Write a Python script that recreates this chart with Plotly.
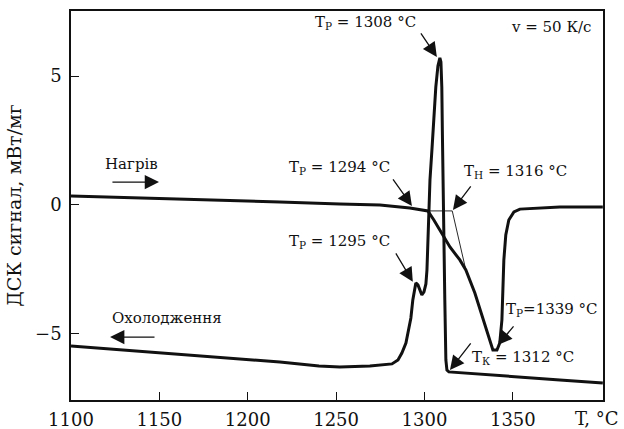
import plotly.graph_objects as go

# ---- data ----
heat_T = [1100, 1144.7, 1184.3, 1218.2, 1252.1, 1274.8, 1291.7, 1301.9, 1305.3, 1308.7,
          1314.4, 1320.0, 1323.4, 1328.5, 1333.0, 1337.0, 1338.7, 1341.0, 1342.6, 1343.8,
          1344.3, 1344.9, 1346.0, 1347.7, 1350.6, 1354.0, 1376.6, 1400.9]
heat_S = [0.35, 0.27, 0.19, 0.12, 0.04, 0.0, -0.12, -0.23, -0.58, -0.97,
          -1.63, -2.13, -2.52, -3.41, -4.38, -5.23, -5.62, -5.62, -5.35, -4.46,
          -3.29, -2.13, -1.16, -0.58, -0.27, -0.16, -0.08, -0.08]

cool_T = [1100, 1184.3, 1218.2, 1240.3, 1252.1, 1269.1, 1281.6, 1285.0, 1287.2, 1289.5,
          1290.6, 1292.3, 1293.4, 1294.6, 1295.1, 1296.3, 1297.4, 1298.5, 1299.7, 1300.8,
          1301.4, 1301.9, 1303.1, 1304.2, 1305.3, 1306.4, 1307.6, 1308.7, 1309.3, 1309.8,
          1310.1, 1310.4, 1311.0, 1311.5, 1312.1, 1312.7, 1313.8, 1331.3, 1354.0, 1376.6, 1400.9]
cool_S = [-5.47, -5.93, -6.09, -6.24, -6.28, -6.24, -6.16, -6.01, -5.74, -5.35,
          -4.96, -4.38, -3.68, -3.10, -3.02, -3.10, -3.33, -3.49, -3.37, -3.06,
          -2.52, -1.36, 0.97, 2.13, 3.37, 4.57, 5.39, 5.70, 5.54, 4.57,
          2.91, 0.97, -1.36, -3.68, -6.01, -6.40, -6.47, -6.55, -6.67, -6.78, -6.90]

# onset construction (baseline + tangent)
tan_T = [1301.9, 1315.7, 1323.4]
tan_S = [-0.23, -0.23, -2.52]

x_ticks = [1100, 1150, 1200, 1250, 1300, 1350]
y_ticks = [-5, 0, 5]

FONT = "DejaVu Serif"
INK = "#111111"

fig = go.Figure()
fig.add_trace(go.Scatter(x=heat_T, y=heat_S, mode="lines",
                         line=dict(color=INK, width=3), showlegend=False))
fig.add_trace(go.Scatter(x=cool_T, y=cool_S, mode="lines",
                         line=dict(color=INK, width=3), showlegend=False))
fig.add_trace(go.Scatter(x=tan_T, y=tan_S, mode="lines",
                         line=dict(color=INK, width=0.9), showlegend=False))

ann = []

def arrow(x, y, ax, ay):
    ann.append(dict(x=x, y=y, ax=ax, ay=ay, xref="x", yref="y", axref="x", ayref="y",
                    text="", showarrow=True, arrowhead=2, arrowsize=2.2, arrowwidth=1.3,
                    arrowcolor=INK, standoff=0, startstandoff=0))

def label(x, y, t, size=15):
    ann.append(dict(x=x, y=y, xref="x", yref="y", text=t, showarrow=False,
                    font=dict(family=FONT, size=size, color=INK),
                    xanchor="center", yanchor="middle"))

label(1266.9, 7.09, "T<sub>Р</sub> = 1308 °C")
arrow(1307.0, 5.74, 1297.4, 6.71)
label(1372.1, 6.90, "v = 50 К/с")
label(1134.5, 1.59, "Нагрів")
arrow(1149.8, 0.89, 1122.6, 0.89)
label(1154.3, -4.38, "Охолодження")
arrow(1122.1, -5.12, 1148.1, -5.12)
label(1252.1, 1.47, "T<sub>Р</sub> = 1294 °C")
arrow(1292.9, -0.04, 1281.6, 1.05)
label(1351.7, 1.28, "T<sub>Н</sub> = 1316 °C")
arrow(1316.1, -0.19, 1326.8, 0.78)
label(1252.1, -1.43, "T<sub>Р</sub> = 1295 °C")
arrow(1293.4, -2.98, 1283.3, -1.82)
label(1372.1, -4.07, "T<sub>Р</sub>=1339 °C")
arrow(1341.5, -5.43, 1351.1, -4.65)
label(1355.7, -5.93, "T<sub>К</sub> = 1312 °C")
arrow(1314.4, -6.40, 1326.8, -5.31)

ann.append(dict(x=1397.5, y=0, xref="x", yref="paper", yshift=-18, text="T, °C",
                showarrow=False, font=dict(family=FONT, size=18, color=INK),
                xanchor="center", yanchor="middle"))

axis_common = dict(showline=True, linecolor=INK, linewidth=1.5, mirror=True,
                   ticks="inside", ticklen=8, tickwidth=1.3, tickcolor=INK,
                   showgrid=False, zeroline=False, automargin=False,
                   tickfont=dict(family=FONT, size=18, color=INK))

fig.update_layout(
    width=624, height=429,
    margin=dict(l=71, r=21, t=11, b=29),
    paper_bgcolor="white", plot_bgcolor="white",
    xaxis=dict(range=[1100, 1401], tickvals=x_ticks, ticklabelstandoff=3, **axis_common),
    yaxis=dict(range=[-7.56, 7.52], tickvals=y_ticks, ticklabelstandoff=4,
               title=dict(text="ДСК сигнал, мВт/мг", standoff=8,
                          font=dict(family=FONT, size=19, color=INK)),
               **axis_common),
    annotations=ann,
)

fig.write_html("out.html")
